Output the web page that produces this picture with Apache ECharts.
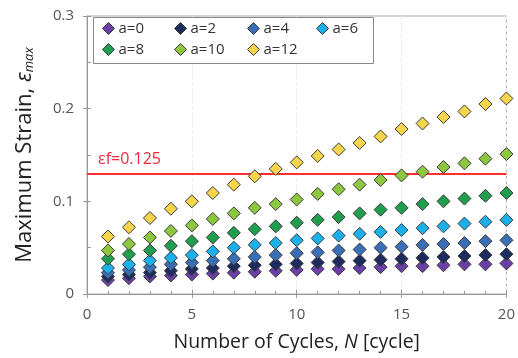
<!DOCTYPE html>
<html>
<head>
<meta charset="utf-8">
<script src="https://cdn.jsdelivr.net/npm/echarts@6/dist/echarts.min.js"></script>
<style>
  html, body { margin: 0; padding: 0; background: #fff; }
  #chart { width: 518px; height: 358px; }
</style>
</head>
<body>
<div id="chart"></div>
<script>
const cycles = [1, 2, 3, 4, 5, 6, 7, 8, 9, 10, 11, 12, 13, 14, 15, 16, 17, 18, 19, 20];

const seriesNames = ["a=0", "a=2", "a=4", "a=6", "a=8", "a=10", "a=12"];

const a0 = [0.015, 0.017, 0.019, 0.020, 0.021, 0.022, 0.023, 0.024, 0.025, 0.026, 0.027, 0.027, 0.028, 0.029, 0.030, 0.030, 0.031, 0.032, 0.032, 0.033];
const a2 = [0.019, 0.021, 0.023, 0.025, 0.027, 0.028, 0.030, 0.031, 0.032, 0.033, 0.034, 0.035, 0.036, 0.037, 0.038, 0.039, 0.040, 0.041, 0.042, 0.043];
const a4 = [0.023, 0.026, 0.029, 0.032, 0.034, 0.036, 0.038, 0.040, 0.042, 0.044, 0.045, 0.047, 0.048, 0.050, 0.051, 0.053, 0.054, 0.055, 0.057, 0.058];
const a6 = [0.028, 0.032, 0.036, 0.039, 0.042, 0.046, 0.050, 0.053, 0.055, 0.058, 0.060, 0.063, 0.065, 0.067, 0.069, 0.071, 0.073, 0.076, 0.078, 0.080];
const a8 = [0.038, 0.043, 0.047, 0.052, 0.057, 0.061, 0.066, 0.070, 0.073, 0.077, 0.080, 0.083, 0.087, 0.091, 0.093, 0.097, 0.100, 0.103, 0.106, 0.109];
const a10 = [0.047, 0.054, 0.061, 0.068, 0.074, 0.081, 0.087, 0.093, 0.097, 0.102, 0.108, 0.113, 0.118, 0.123, 0.128, 0.132, 0.137, 0.141, 0.146, 0.151];
const a12 = [0.062, 0.072, 0.082, 0.092, 0.100, 0.109, 0.118, 0.127, 0.135, 0.142, 0.149, 0.156, 0.163, 0.170, 0.178, 0.184, 0.191, 0.197, 0.205, 0.211];

const failStrain = 0.125;

const colors = ["#6b3fa8", "#1e2b5e", "#3b6fb5", "#1cb0ea", "#1f9e4e", "#8dc63f", "#f4d54b"];

const chart = echarts.init(document.getElementById("chart"));

const allData = [a0, a2, a4, a6, a8, a10, a12];

const series = seriesNames.map((name, i) => ({
  name: name,
  type: "scatter",
  symbol: "diamond",
  symbolSize: 13,
  z: 3 + i,
  data: cycles.map((c, j) => [c, allData[i][j]]),
  itemStyle: {
    color: colors[i],
    borderColor: "#3a3a3a",
    borderWidth: 1,
    opacity: 1,
  },
}));

// 破断ひずみライン
series.push({
  name: "ef",
  type: "line",
  data: [],
  silent: true,
  markLine: {
    symbol: "none",
    silent: true,
    lineStyle: { color: "#ff2f2f", width: 2, type: "solid" },
    label: {
      show: true,
      position: "insideStartTop",
      formatter: "εf=0.125",
      color: "#f0283c",
      fontSize: 16,
      fontFamily: "Open Sans",
      distance: [11, 6],
    },
    data: [{ yAxis: failStrain }],
  },
});

// 凡例は1項目ずつ配置
const legendCx = [108, 180, 253, 322, 108, 180, 253];
const legendCy = [31, 31, 31, 31, 52, 52, 52];
const legends = seriesNames.map((n, i) => ({
  data: [{ name: n, itemStyle: { color: colors[i], borderColor: "#3a3a3a", borderWidth: 1 } }],
  left: legendCx[i] - 6,
  top: legendCy[i] - 10,
  padding: 0,
  icon: "diamond",
  itemWidth: 12,
  itemHeight: 12,
  itemGap: 0,
  z: 20,
  textStyle: { fontSize: 15, color: "#333", fontFamily: "Open Sans", padding: [0, 0, 0, -1] },
}));

const tickColor = "#999";

const option = {
  animation: false,
  grid: { left: 87, right: 10, top: 16, bottom: 64, show: true, borderColor: "#aaa", borderWidth: 1 },
  graphic: [
    {
      type: "rect",
      shape: { x: 93.5, y: 17.5, width: 280, height: 46 },
      style: { fill: "#fff", stroke: "#888", lineWidth: 1 },
      z: 10,
    },
  ],
  legend: legends,
  xAxis: [
    {
      type: "value",
      min: 0,
      max: 20,
      interval: 5,
      name: "{t|Number of Cycles, }{i|N}{t| [cycle]}",
      nameLocation: "middle",
      nameGap: 38,
      nameTextStyle: {
        rich: {
          t: { fontSize: 19.5, color: "#222", fontFamily: "Open Sans" },
          i: { fontSize: 19.5, color: "#222", fontFamily: "Open Sans", fontStyle: "italic" },
        },
      },
      axisLine: { lineStyle: { color: tickColor } },
      axisTick: { show: true, length: 4, lineStyle: { color: tickColor } },
      axisLabel: { fontSize: 15, color: "#555", fontFamily: "Open Sans", margin: 13 },
      splitLine: { show: true, lineStyle: { color: "#ebebeb", type: "dashed" } },
    },
    {
      type: "value",
      position: "bottom",
      offset: 0,
      min: 0,
      max: 20,
      interval: 5,
      axisLine: { show: false },
      axisTick: { show: true, inside: true, length: 4, lineStyle: { color: tickColor } },
      minorTick: { show: true, splitNumber: 5, length: 3, lineStyle: { color: tickColor } },
      axisLabel: { show: false },
      splitLine: { show: false },
    },
  ],
  yAxis: [
    {
      type: "value",
      min: 0,
      max: 0.3,
      interval: 0.1,
      name: "{t|Maximum Strain, }{e|ε}{s|max}",
      nameLocation: "middle",
      nameGap: 51,
      nameTextStyle: {
        rich: {
          t: { fontSize: 22, color: "#222", fontFamily: "Open Sans" },
          e: { fontSize: 22, color: "#222", fontFamily: "Open Sans", fontStyle: "italic" },
          s: { fontSize: 13, color: "#222", fontFamily: "Open Sans", fontStyle: "italic", verticalAlign: "bottom", padding: [10, 0, 0, 0] },
        },
      },
      axisLine: { show: true, lineStyle: { color: tickColor } },
      axisTick: { show: true, length: 4, lineStyle: { color: tickColor } },
      axisLabel: { fontSize: 15, color: "#555", fontFamily: "Open Sans", margin: 13 },
      splitLine: { show: false },
    },
    {
      type: "value",
      position: "left",
      offset: 0,
      min: 0,
      max: 0.3,
      interval: 0.1,
      axisLine: { show: false },
      axisTick: { show: true, inside: true, length: 4, lineStyle: { color: tickColor } },
      minorTick: { show: true, splitNumber: 2, length: 4, lineStyle: { color: tickColor } },
      axisLabel: { show: false },
      splitLine: { show: false },
    },
  ],
  series: series,
};

chart.setOption(option);
</script>
</body>
</html>
